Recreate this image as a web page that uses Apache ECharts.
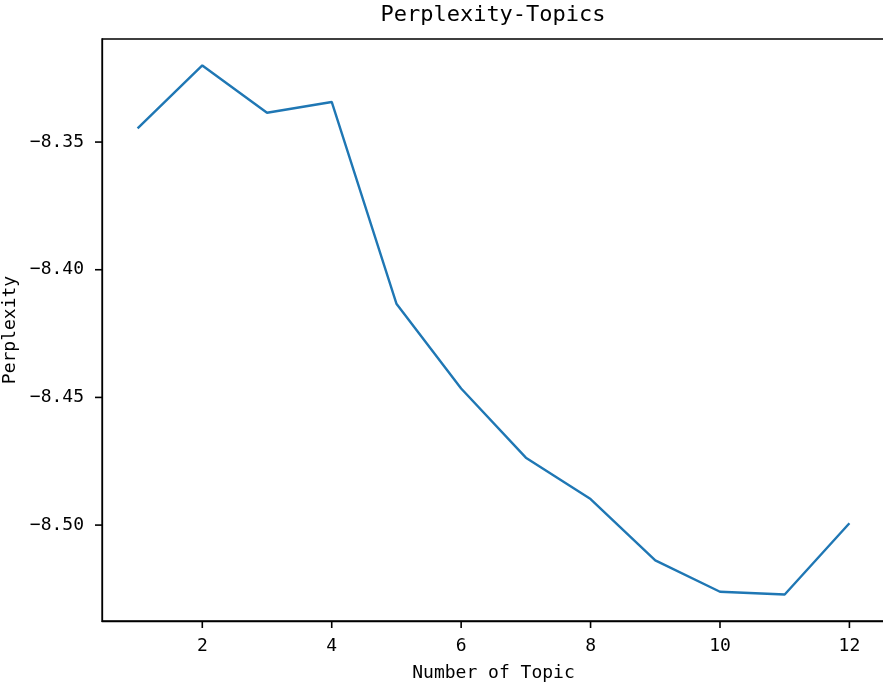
<!DOCTYPE html>
<html>
<head>
<meta charset="utf-8">
<script src="https://cdn.jsdelivr.net/npm/echarts@6/dist/echarts.min.js"></script>
<style>
html,body{margin:0;padding:0;background:#fff;}
#chart{width:883px;height:687px;}
</style>
</head>
<body>
<div id="chart"></div>
<script>
const topics = [1, 2, 3, 4, 5, 6, 7, 8, 9, 10, 11, 12];
const perplexity = [-8.3446, -8.3200, -8.3385, -8.3343, -8.4133, -8.4465, -8.4736, -8.4898, -8.5138, -8.5261, -8.5272, -8.4993];
const xTicks = [2, 4, 6, 8, 10, 12];
const yTicks = [-8.50, -8.45, -8.40, -8.35];
const titleText = 'Perplexity-Topics';
const xName = 'Number of Topic';
const yName = 'Perplexity';

const FONT = '"DejaVu Sans Mono", "Liberation Mono", monospace';
const xSpan = topics[topics.length - 1] - topics[0];
const xMin = topics[0] - 0.05 * xSpan;
const xMax = topics[topics.length - 1] + 0.05 * xSpan;
const yLo = Math.min.apply(null, perplexity), yHi = Math.max.apply(null, perplexity);
const yMin = yLo - 0.05 * (yHi - yLo);
const yMax = yHi + 0.05 * (yHi - yLo);
const TICK_LEN = 7;

function near(list, v) { return list.some(t => Math.abs(t - v) < 1e-6); }

const chart = echarts.init(document.getElementById('chart'), null, {renderer: 'canvas'});
chart.setOption({
  animation: false,
  backgroundColor: '#ffffff',
  title: {
    text: titleText,
    left: 493,
    top: 4,
    padding: 0,
    textAlign: 'center',
    textStyle: {fontFamily: FONT, fontSize: 22, fontWeight: 'normal', color: '#000'}
  },
  grid: {
    left: 102, top: 39, width: 783, height: 582,
    outerBoundsMode: 'none', containLabel: false,
    show: true, borderColor: '#000', borderWidth: 1.3, backgroundColor: 'transparent'
  },
  xAxis: {
    type: 'value', min: xMin, max: xMax, splitNumber: 5,
    name: xName, nameLocation: 'middle', nameGap: 43,
    nameTextStyle: {fontFamily: FONT, fontSize: 18, color: '#000'},
    axisLine: {show: true, onZero: false, lineStyle: {color: '#000', width: 1.3}},
    axisTick: {show: false},
    axisLabel: {
      showMinLabel: false, showMaxLabel: false, margin: 16, fontFamily: FONT, fontSize: 18, color: '#000',
      formatter: function (v) { return near(xTicks, v) ? String(v) : ''; }
    },
    splitLine: {show: false}
  },
  yAxis: {
    type: 'value', min: yMin, max: yMax, splitNumber: 5,
    name: yName, nameLocation: 'middle', nameGap: 78, nameRotate: 90,
    nameTextStyle: {fontFamily: FONT, fontSize: 18, color: '#000'},
    axisLine: {show: true, onZero: false, lineStyle: {color: '#000', width: 1.3}},
    axisTick: {show: false},
    axisLabel: {
      showMinLabel: false, showMaxLabel: false, margin: 18, fontFamily: FONT, fontSize: 18, color: '#000',
      formatter: function (v) { return near(yTicks, v) ? v.toFixed(2).replace('-', '\u2212') : ''; }
    },
    splitLine: {show: false}
  },
  series: [{
    type: 'line',
    data: topics.map((t, i) => [t, perplexity[i]]),
    showSymbol: false,
    lineStyle: {color: '#1f77b4', width: 2.4},
    itemStyle: {color: '#1f77b4'},
    z: 3
  }]
});

// Tick marks placed through the chart's own coordinate conversion
const tickGraphics = [];
xTicks.forEach(function (v) {
  const p = chart.convertToPixel({gridIndex: 0}, [v, yMin]);
  tickGraphics.push({type: 'line', silent: true, z: 10,
    shape: {x1: p[0], y1: p[1], x2: p[0], y2: p[1] + TICK_LEN},
    style: {stroke: '#000', lineWidth: 1.6}});
});
yTicks.forEach(function (v) {
  const p = chart.convertToPixel({gridIndex: 0}, [xMin, v]);
  tickGraphics.push({type: 'line', silent: true, z: 10,
    shape: {x1: p[0] - TICK_LEN, y1: p[1], x2: p[0], y2: p[1]},
    style: {stroke: '#000', lineWidth: 1.6}});
});
chart.setOption({graphic: {elements: tickGraphics}});
</script>
</body>
</html>
